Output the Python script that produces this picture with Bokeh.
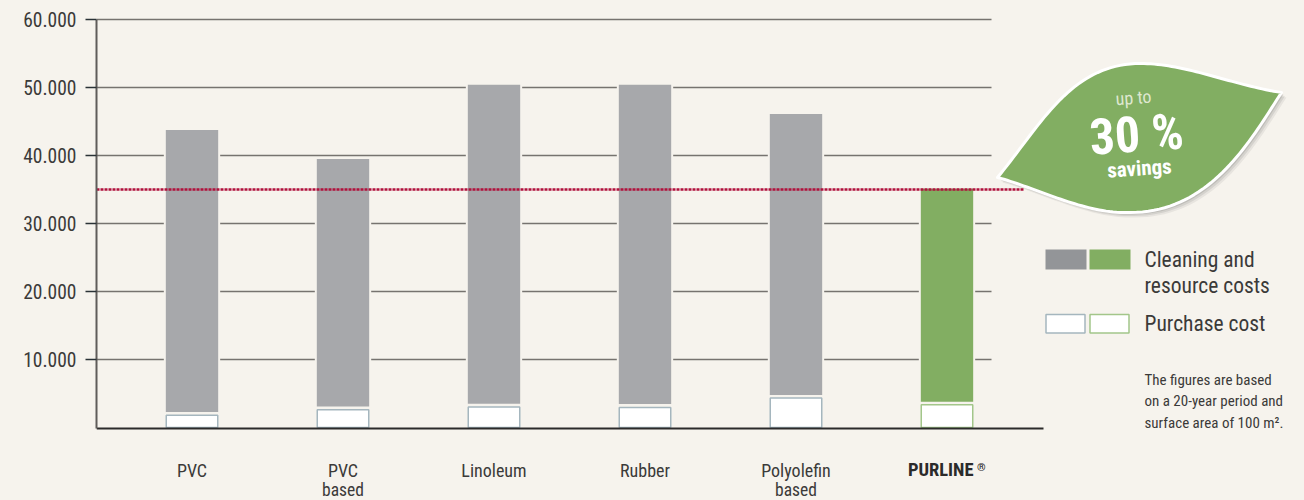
from bokeh.plotting import figure
from bokeh.embed import file_html
from bokeh.resources import INLINE
from bokeh.models import FixedTicker, Label, Range1d
from bokeh.core.properties import value
import numpy as np

FONT = "Roboto Condensed"
BG = "#f6f3ed"
INK = "#3b3a39"
GREY = "#a7a8ab"
GREEN = "#82ae62"

categories = ["PVC", "PVC", "Linoleum", "Rubber", "Polyolefin"]
category_second_line = ["", "based", "", "", "based"]
highlight = "PURLINE"
purchase_cost = [1800, 2600, 3000, 2950, 4350, 3350]
cleaning_start = [2150, 2950, 3350, 3300, 4650, 3650]
total_cost = [43900, 39650, 50550, 50550, 46250, 35250]
savings_line = 35000
y_ticks = [10000, 20000, 30000, 40000, 50000, 60000]
y_labels = ["10.000", "20.000", "30.000", "40.000", "50.000", "60.000"]

W, H = 1304, 500
SPACING = 151.0
X0_PX = 191.5
Y0_PX = 427.0
Y_SCALE = 68.0 / 10000


def dx(px):
    return (px - X0_PX) / SPACING


def dy(py):
    return (Y0_PX - py) / Y_SCALE


p = figure(width=W, height=H, output_backend="svg", toolbar_location=None,
           x_range=Range1d(dx(96), dx(1304)), y_range=Range1d(dy(500), dy(16)),
           min_border_left=96, min_border_right=0, min_border_top=16, min_border_bottom=0,
           background_fill_color=BG, border_fill_color=BG, outline_line_color=None)
p.grid.visible = False

xs = np.arange(6)
# grid lines
p.segment(x0=[dx(96)] * 6, x1=[dx(991)] * 6, y0=y_ticks, y1=y_ticks, line_color="#76736f", line_width=1.5)

# bars
p.vbar(x=xs[:5], bottom=cleaning_start[:5], top=total_cost[:5], width=0.36,
       fill_color=GREY, line_color=BG, line_width=2)
p.vbar(x=xs[5:], bottom=cleaning_start[5:], top=total_cost[5:], width=0.36,
       fill_color=GREEN, line_color=BG, line_width=2)
p.vbar(x=xs[:5], bottom=0, top=purchase_cost[:5], width=0.341,
       fill_color="white", line_color="#a5b6be", line_width=1.5)
p.vbar(x=xs[5:], bottom=0, top=purchase_cost[5:], width=0.341,
       fill_color="white", line_color="#a3c68a", line_width=1.5)

# savings line
p.line([dx(96), dx(1024)], [savings_line, savings_line], line_color="#b0103c",
       line_width=2.5, line_dash="3 1")


# leaf
def bez(a, b, c, d, n=40):
    t = np.linspace(0, 1, n)[:, None]
    a, b, c, d = map(np.array, (a, b, c, d))
    return (1 - t) ** 3 * a + 3 * (1 - t) ** 2 * t * b + 3 * (1 - t) * t ** 2 * c + t ** 3 * d


leaf = np.vstack([
    bez((997, 177), (1040, 125), (1070, 63), (1140, 63)),
    bez((1140, 63), (1185, 63), (1230, 84), (1281, 92)),
    bez((1281, 92), (1250, 140), (1210, 212), (1130, 212)),
    bez((1130, 212), (1085, 214), (1038, 188), (997, 177)),
])
for off, alpha in ((5, 0.06), (3.5, 0.08), (2, 0.1)):
    p.patch(dx(leaf[:, 0] + off), dy(leaf[:, 1] + off), fill_color="black", fill_alpha=alpha, line_color=None)
p.patch(dx(leaf[:, 0]), dy(leaf[:, 1]), fill_color=GREEN, line_color="white", line_width=3, line_join="round")


def txt(px, py, s, size, color=INK, style="normal", angle=0.0, align="left"):
    p.text([dx(px)], [dy(py)], text=[s], text_font=value(FONT), text_font_size=f"{size}px",
           text_color=color, text_font_style=style, angle=angle, text_align=align, text_baseline="middle")


ANG = np.radians(4)
txt(1133, 97, "up to", 18, "#dfe8d0", angle=ANG, align="center")
txt(1136, 134, "30 %", 50, "white", "bold", angle=ANG, align="center")
txt(1139, 168, "savings", 21, "white", "bold", angle=ANG, align="center")

# legend
p.quad(left=[dx(1045)], right=[dx(1086)], top=[dy(249)], bottom=[dy(269)], fill_color="#939598", line_color=None)
p.quad(left=[dx(1089)], right=[dx(1130)], top=[dy(249)], bottom=[dy(269)], fill_color=GREEN, line_color=None)
p.quad(left=[dx(1045.5)], right=[dx(1084.5)], top=[dy(314)], bottom=[dy(332.5)], fill_color="white", line_color="#a5b6be", line_width=1.5)
p.quad(left=[dx(1089.5)], right=[dx(1128.5)], top=[dy(314)], bottom=[dy(332.5)], fill_color="white", line_color="#a3c68a", line_width=1.5)
txt(1144, 259, "Cleaning and", 21.5)
txt(1144, 285, "resource costs", 21.5)
txt(1144, 323, "Purchase cost", 21.5)
txt(1144, 379, "The figures are based", 15)
txt(1144, 400, "on a 20-year period and", 15)
txt(1144, 422, "surface area of 100 m\u00b2.", 15)

# axes
xa = p.xaxis[0]
xa.fixed_location = dy(428)
xa.ticker = FixedTicker(ticks=list(range(5)))
xa.major_label_overrides = {i: c for i, c in enumerate(categories)}
xa.major_tick_line_color = None
xa.minor_tick_line_color = None
xa.major_label_standoff = 25
xa.major_label_text_font = FONT
xa.major_label_text_font_size = "18px"
xa.major_label_text_color = INK
xa.axis_line_color = "#2b2a2a"
xa.axis_line_width = 2
xa.bounds = (dx(95), dx(1043))

ya = p.yaxis[0]
ya.ticker = FixedTicker(ticks=y_ticks)
ya.major_label_overrides = dict(zip(y_ticks, y_labels))
ya.major_tick_line_color = "#2a3236"
ya.major_tick_line_width = 1.5
ya.major_tick_out = 11
ya.major_tick_in = 0
ya.minor_tick_line_color = None
ya.major_label_standoff = 9
ya.major_label_text_font = FONT
ya.major_label_text_font_size = "19.5px"
ya.major_label_text_color = INK
ya.axis_line_color = "#5f5c5a"
ya.axis_line_width = 2
ya.bounds = (dy(428), 60000)

# second lines of the category labels
for i, s in enumerate(category_second_line):
    if s:
        p.add_layout(Label(x=i, y=0, y_offset=-72, text=s, text_font=FONT, text_font_size="17.5px",
                           text_color=INK, text_align="center", text_baseline="bottom"))

# bold highlighted category
p.add_layout(Label(x=5, y=0, x_offset=26.5, y_offset=-42.5, text=highlight, text_font=FONT, text_font_size="18.5px",
                   text_font_style="bold", text_color="#2b2a2a", text_align="right", text_baseline="middle"))
p.add_layout(Label(x=5, y=0, x_offset=30, y_offset=-40, text="\u00ae", text_font=FONT, text_font_size="11px",
                   text_font_style="bold", text_color="#2b2a2a", text_align="left", text_baseline="middle"))

html = file_html(p, INLINE)
html = html.replace("<head>", f"<head><style>html,body{{background:{BG};overflow:hidden}}</style>", 1)
open("out.html", "w").write(html)
